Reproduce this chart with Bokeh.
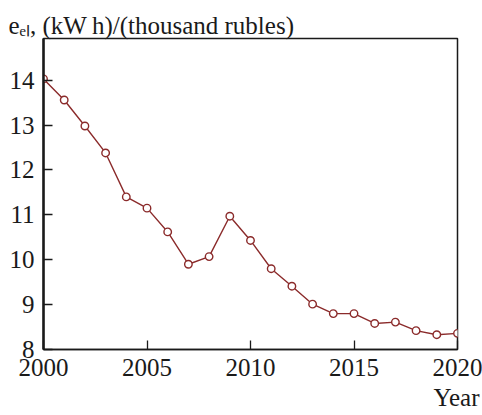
from bokeh.plotting import figure
from bokeh.models import Range1d, FixedTicker, Title
from bokeh.embed import file_html
from bokeh.resources import INLINE

years = list(range(2000, 2021))
e_el = [14.03, 13.56, 12.98, 12.38, 11.40, 11.15, 10.62, 9.90, 10.07, 10.97,
        10.43, 9.80, 9.41, 9.01, 8.80, 8.80, 8.58, 8.61, 8.42, 8.33, 8.36]
x_ticks = [2000, 2005, 2010, 2015, 2020]
y_ticks = [8, 9, 10, 11, 12, 13, 14]
y_title = "e\u2091\u2097, (kW\u2009h)/(thousand rubles)"
x_title = "Year"

FONT = "Liberation Serif"
RED = "#8b2b2b"
INK = "#1a1a1a"

p = figure(output_backend="svg", toolbar_location=None,
           x_range=Range1d(2000, 2020), y_range=Range1d(8, 14.93),
           frame_width=414, frame_height=311,
           min_border_left=43, min_border_top=38, min_border_right=25, min_border_bottom=66)

p.xgrid.visible = False
p.ygrid.visible = False
p.outline_line_color = INK
p.outline_line_width = 1.5
p.background_fill_color = "white"
p.border_fill_color = "white"

for ax in (p.xaxis[0], p.yaxis[0]):
    ax.major_tick_out = 0
    ax.major_tick_in = 9
    ax.minor_tick_out = 0
    ax.minor_tick_in = 0
    ax.major_label_text_font = FONT
    ax.major_label_text_font_size = "25px"
    ax.major_label_text_color = INK
    ax.axis_line_color = INK
    ax.major_tick_line_color = INK
    ax.major_tick_line_width = 1.3

p.xaxis[0].ticker = FixedTicker(ticks=x_ticks)
p.yaxis[0].ticker = FixedTicker(ticks=y_ticks)
p.yaxis[0].axis_line_width = 2.5
p.xaxis[0].axis_line_width = 1.5
p.yaxis[0].major_label_standoff = 9
p.xaxis[0].major_label_standoff = 9

p.line(years, e_el, line_color=RED, line_width=1.4)
p.scatter(years, e_el, marker="circle", size=7.5, line_color=RED, line_width=1.4,
          fill_color="white")

p.add_layout(Title(text=y_title, align="left", offset=-35, standoff=0,
                   text_font=FONT, text_font_size="25px", text_font_style="normal",
                   text_color=INK), "above")
p.add_layout(Title(text=x_title, align="right", offset=-22, standoff=6,
                   text_font=FONT, text_font_size="25px", text_font_style="normal",
                   text_color=INK), "below")

open("out.html", "w").write(file_html(p, INLINE))
